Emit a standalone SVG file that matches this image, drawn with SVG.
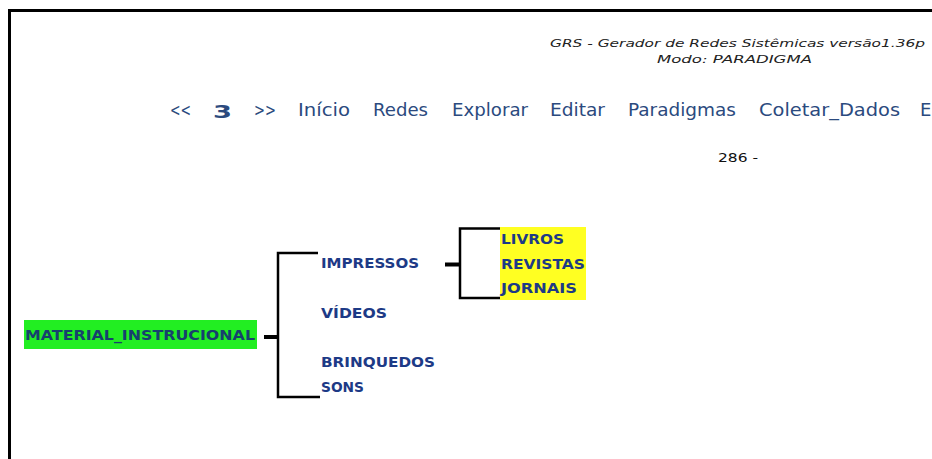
<svg xmlns="http://www.w3.org/2000/svg" width="932" height="459" viewBox="0 0 932 459">
<style>
.hdr{font-family:"DejaVu Sans",Verdana,sans-serif;font-style:italic;font-size:11px;fill:#222}
.nav{font-family:"DejaVu Sans",Verdana,sans-serif;font-size:18px;fill:#2b4a7e}
.num{font-family:"DejaVu Sans",Verdana,sans-serif;font-size:12px;fill:#111}
.lbl{font-family:"DejaVu Sans",Verdana,sans-serif;font-weight:bold;font-size:13.5px;fill:#1d3a86}
.conn{fill:none;stroke:#000;stroke-width:2.5}
.stub{stroke:#000;stroke-width:4}
</style>
<rect width="932" height="459" fill="#fff"/>
<path d="M9.5,459 V10.5 H932" fill="none" stroke="#000" stroke-width="3"/>
<g id="header">
<text class="hdr" x="550" y="47" textLength="375" lengthAdjust="spacingAndGlyphs">GRS - Gerador de Redes Sistêmicas versão1.36p</text>
<text class="hdr" x="657" y="63" textLength="155" lengthAdjust="spacingAndGlyphs">Modo: PARADIGMA</text>
</g>
<g id="nav">
<text class="nav" x="170" y="116" font-size="13" textLength="21" lengthAdjust="spacingAndGlyphs">&lt;&lt;</text>
<text class="nav" x="213" y="118" font-size="26" font-weight="bold" textLength="19" lengthAdjust="spacingAndGlyphs">3</text>
<text class="nav" x="254" y="116" font-size="13" textLength="22" lengthAdjust="spacingAndGlyphs">&gt;&gt;</text>
<text class="nav" x="298" y="116" textLength="52" lengthAdjust="spacingAndGlyphs">Início</text>
<text class="nav" x="373" y="116" textLength="55" lengthAdjust="spacingAndGlyphs">Redes</text>
<text class="nav" x="452" y="116" textLength="76" lengthAdjust="spacingAndGlyphs">Explorar</text>
<text class="nav" x="550" y="116" textLength="55" lengthAdjust="spacingAndGlyphs">Editar</text>
<text class="nav" x="628" y="116" textLength="108" lengthAdjust="spacingAndGlyphs">Paradigmas</text>
<text class="nav" x="759" y="116" textLength="141" lengthAdjust="spacingAndGlyphs">Coletar_Dados</text>
<text class="nav" x="920" y="116">E</text>
<text class="num" x="718" y="162" textLength="40" lengthAdjust="spacingAndGlyphs">286 -</text>
</g>
<g id="connectors">
<path class="conn" d="M318,253 H278 V397 H320"/>
<line class="stub" x1="264" y1="337" x2="278" y2="337"/>
<path class="conn" d="M500,228.5 H460 V298 H500"/>
<line class="stub" x1="445" y1="264.5" x2="460" y2="264.5"/>
</g>
<g id="node-material">
<rect x="24" y="320" width="233" height="29" fill="#22ee22"/>
<text class="lbl" x="25" y="340" fill="#17406e" style="fill:#17406e" textLength="230" lengthAdjust="spacingAndGlyphs">MATERIAL_INSTRUCIONAL</text>
</g>
<g id="node-impressos"><text class="lbl" x="321" y="268" textLength="98" lengthAdjust="spacingAndGlyphs">IMPRESSOS</text></g>
<g id="node-videos"><text class="lbl" x="321" y="318" textLength="66" lengthAdjust="spacingAndGlyphs">VÍDEOS</text></g>
<g id="node-brinquedos"><text class="lbl" x="321" y="367" textLength="114" lengthAdjust="spacingAndGlyphs">BRINQUEDOS</text></g>
<g id="node-sons"><text class="lbl" x="321" y="392" textLength="43" lengthAdjust="spacingAndGlyphs">SONS</text></g>
<g id="node-sub">
<rect x="500" y="227" width="86" height="73" fill="#ffff22"/>
<text class="lbl" x="501" y="243.5" textLength="63" lengthAdjust="spacingAndGlyphs">LIVROS</text>
<text class="lbl" x="501" y="268.5" textLength="84" lengthAdjust="spacingAndGlyphs">REVISTAS</text>
<text class="lbl" x="501" y="292.5" textLength="76" lengthAdjust="spacingAndGlyphs">JORNAIS</text>
</g>
</svg>
